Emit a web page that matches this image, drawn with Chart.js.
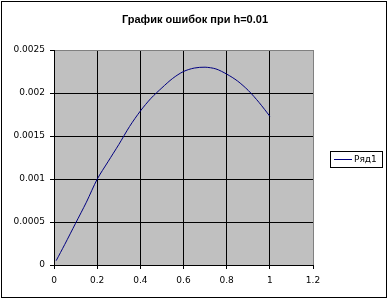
<!DOCTYPE html>
<html>
<head>
<meta charset="utf-8">
<script src="https://cdn.jsdelivr.net/npm/chart.js@4/dist/chart.umd.min.js"></script>
<style>
html,body{margin:0;padding:0;background:#fff;}
#wrap{width:389px;height:300px;position:relative;}
</style>
</head>
<body>
<div id="wrap"><canvas id="c" width="389" height="300"></canvas></div>
<script>
const chartTitle = 'График ошибок при h=0.01';
const seriesName = 'Ряд1';
const xValues = [0.01,0.05,0.1,0.15,0.2,0.25,0.3,0.35,0.4,0.45,0.5,0.55,0.6,0.65,0.7,0.75,0.8,0.85,0.9,0.95,1.0];
const yValues = [0.00005,0.00024,0.000485,0.00073,0.000997,0.0012,0.0014,0.00161,0.00179,0.00194,0.00206,0.00217,0.00225,0.00229,0.0023,0.00228,0.00222,0.00214,0.00203,0.00189,0.00173];
const xTickLabels = ['0','0.2','0.4','0.6','0.8','1','1.2'];
const yTickLabels = ['0','0.0005','0.001','0.0015','0.002','0.0025'];

const FONT = 'DejaVu Sans';

const bgPlugin = {
  id: 'bg',
  beforeDraw(chart) {
    const {ctx, chartArea: a} = chart;
    ctx.save();
    ctx.fillStyle = '#ffffff';
    ctx.fillRect(0, 0, chart.width, chart.height);
    ctx.fillStyle = '#c0c0c0';
    ctx.fillRect(a.left, a.top, a.right - a.left, a.bottom - a.top);
    ctx.restore();
  },
  afterDraw(chart) {
    const {ctx} = chart;
    ctx.save();
    // outer chart border
    ctx.strokeStyle = '#000';
    ctx.lineWidth = 1;
    ctx.strokeRect(1.5, 1.5, 385, 296);
    // title
    ctx.fillStyle = '#000';
    ctx.font = 'bold 11px "Liberation Sans"';
    ctx.textAlign = 'center';
    ctx.textBaseline = 'middle';
    ctx.fillText(chartTitle, 195, 20);
    // legend
    const lx = 330.5, ly = 151.5, lw = 52, lh = 16;
    ctx.fillStyle = '#fff';
    ctx.fillRect(lx, ly, lw, lh);
    ctx.strokeRect(lx, ly, lw, lh);
    const ds = chart.data.datasets[0];
    ctx.strokeStyle = ds.borderColor;
    ctx.beginPath();
    ctx.moveTo(334, 159.5);
    ctx.lineTo(352, 159.5);
    ctx.stroke();
    ctx.fillStyle = '#000';
    ctx.font = '9px "' + FONT + '"';
    ctx.textBaseline = 'middle';
    ctx.textAlign = 'left';
    ctx.fillText(ds.label, 354, 160);
    ctx.restore();
  }
};

new Chart(document.getElementById('c'), {
  type: 'line',
  data: {
    datasets: [{
      label: seriesName,
      data: xValues.map((x, i) => ({x: x, y: yValues[i]})),
      borderColor: '#000080',
      borderWidth: 1,
      pointRadius: 0,
      fill: false,
      tension: 0.3
    }]
  },
  options: {
    responsive: false,
    animation: false,
    devicePixelRatio: 1,
    layout: {padding: {left: 0, right: 76, top: 50, bottom: 0}},
    plugins: {
      legend: {display: false},
      tooltip: {enabled: false},
      title: {display: false}
    },
    scales: {
      x: {
        type: 'linear',
        min: 0, max: 1.2,
        afterFit(s) { s.height = 35; },
        ticks: {
          stepSize: 0.2,
          color: '#000',
          font: {family: FONT, size: 9},
          padding: 6,
          maxRotation: 0,
          callback: (v, i) => xTickLabels[i]
        },
        grid: {
          color: (c) => (c.index === xTickLabels.length - 1 ? '#808080' : '#000'),
          lineWidth: 1,
          tickColor: '#000',
          tickLength: 4,
          drawOnChartArea: true
        },
        border: {color: '#000', width: 1}
      },
      y: {
        min: 0, max: 0.0025,
        afterFit(s) { s.width = 54; },
        ticks: {
          stepSize: 0.0005,
          color: '#000',
          font: {family: FONT, size: 9},
          padding: 5,
          callback: (v, i) => yTickLabels[i]
        },
        grid: {
          color: (c) => (c.index === yTickLabels.length - 1 ? '#808080' : '#000'),
          lineWidth: 1,
          tickColor: '#000',
          tickLength: 4
        },
        border: {color: '#000', width: 1}
      }
    }
  },
  plugins: [bgPlugin]
});
</script>
</body>
</html>
